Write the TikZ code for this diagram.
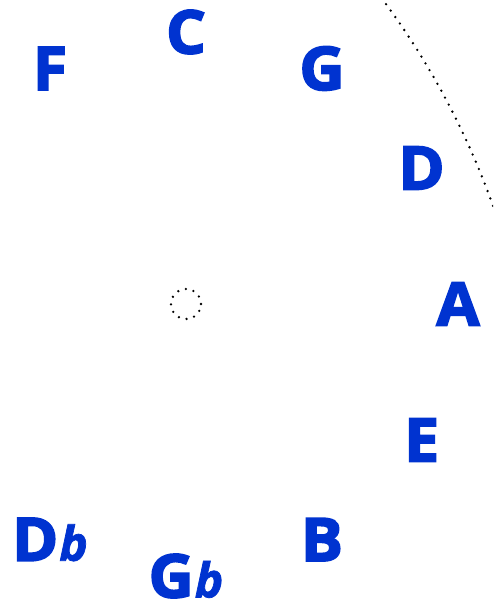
\documentclass[tikz,border=0pt]{standalone}
\usepackage{fontspec}
\setmainfont{Open Sans}
\newfontfamily\keyfont{Open Sans}[FakeBold=3, FakeStretch=1.04]
\newfontfamily\flatfont{Open Sans}[FakeBold=1.5]
\definecolor{keyblue}{RGB}{0,51,208}
\begin{document}
\begin{tikzpicture}[x=1pt,y=1pt,
  key/.style={text=keyblue, inner sep=0pt, font=\keyfont\bfseries\fontsize{60}{60}\selectfont},
  dots/.style={line width=2.6pt, dash pattern=on 0pt off 7.9pt, line cap=round}]
\newcommand\flatmark{{\flatfont\bfseries\itshape\fontsize{48}{48}\selectfont\kern1pt b}}
\useasboundingbox (0,0) rectangle (493,-607);
\coordinate (O) at (186,-304);
\node[key] (C)  at ([shift={(90:272pt)}]O)  {C};
\node[key] (G)  at ([shift={(60:272pt)}]O)  {G};
\node[key] (D)  at ([shift={(30:272pt)}]O)  {D};
\node[key] (A)  at ([shift={(0:272pt)}]O)   {A};
\node[key] (E)  at ([shift={(-30:272pt)}]O) {E};
\node[key] (B)  at ([shift={(-60:272pt)}]O) {B};
\node[key] (Gf) at ([shift={(-90:272pt)}]O) {G\flatmark};
\node[key] (Df) at ([shift={(-120:272pt)}]O) {D\flatmark};
\node[key] (F)  at ([shift={(120:272pt)}]O) {F};
\node[circle, minimum size=30pt, inner sep=0pt] (hole) at (O) {};
\draw[dots] (hole.center) circle[radius=15pt];
\coordinate (arcC) at (-248,-469.5);
\begin{scope}
\clip (0,0) rectangle (493,-607);
\draw[dots] ([shift={(38:786.5pt)}]arcC) arc[start angle=38, end angle=19, radius=786.5pt];
\end{scope}
\end{tikzpicture}
\end{document}
